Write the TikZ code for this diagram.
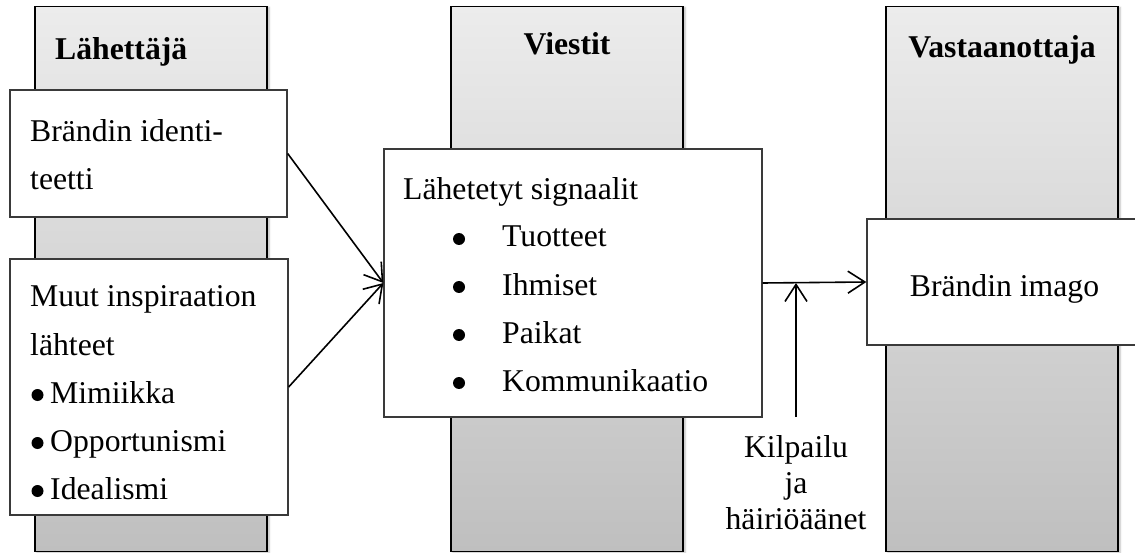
\documentclass[tikz,border=0pt]{standalone}
\usepackage{fontspec}
\setmainfont{Liberation Serif}
\usetikzlibrary{arrows.meta,shadows.blur}
\definecolor{colTop}{HTML}{ECECEC}
\definecolor{colBot}{HTML}{BFBFBF}
\definecolor{boxEdge}{HTML}{3A3A3A}
\begin{document}
\begin{tikzpicture}[x=1pt,y=-1pt,
  column/.style={draw=black, line width=1.8pt, top color=colTop, bottom color=colBot,
    minimum width=232pt, minimum height=545pt, inner sep=0pt,
    blur shadow={shadow xshift=2pt, shadow yshift=-1pt, shadow blur radius=2pt, shadow opacity=30}},
  panel/.style={draw=boxEdge, line width=1.3pt, fill=white, inner sep=0pt},
  title/.style={font=\bfseries\fontsize{31.7}{38}\selectfont, anchor=base, inner sep=0pt},
  txt/.style={font=\fontsize{31.7}{38}\selectfont, anchor=base west, inner sep=0pt},
  dot/.style={circle, fill=black, inner sep=0pt, minimum size=12pt},
  flow/.style={line width=1.6pt, -{Straight Barb[length=17pt,width=22pt]}}
]
\useasboundingbox (0,0) rectangle (1135,553);
\clip (0,0) rectangle (1135,553);

% three shaded columns
\node[column] (sender) at (151,279) {};
\node[column] (messages) at (567,279) {};
\node[column] (receiver) at (1002,279) {};

\node[title, anchor=base west] (tsender) at (55,60) {Lähettäjä};
\node[title] (tmessages) at (567,55) {Viestit};
\node[title] (treceiver) at (1002,58) {Vastaanottaja};

% white panels
\node[panel, minimum width=277pt, minimum height=127pt] (identity) at (148.5,153.5) {};
\node[panel, minimum width=278pt, minimum height=256pt] (other) at (149,387) {};
\node[panel, minimum width=378pt, minimum height=268pt] (signals) at (573,283) {};
\node[panel, minimum width=273pt, minimum height=126pt] (image) at (1003.5,282) {};

% sender texts
\node[txt] (id1) at (30,142) {Brändin identi-};
\node[txt] (id2) at (30,190) {teetti};
\node[txt] (ot1) at (30,307) {Muut inspiraation};
\node[txt] (ot2) at (30,355) {lähteet};
\node[dot] (od1) at (37.5,395) {};
\node[txt] (ot3) at (50,403) {Mimiikka};
\node[dot] (od2) at (37.5,443) {};
\node[txt] (ot4) at (50,451) {Opportunismi};
\node[dot] (od3) at (37.5,491) {};
\node[txt] (ot5) at (50,499) {Idealismi};

% message texts
\node[txt] (sg0) at (403,200) {Lähetetyt signaalit};
\node[dot] (sd1) at (459,239) {};
\node[txt] (sg1) at (502,247) {Tuotteet};
\node[dot] (sd2) at (459,287) {};
\node[txt] (sg2) at (502,295) {Ihmiset};
\node[dot] (sd3) at (459,335) {};
\node[txt] (sg3) at (502,343) {Paikat};
\node[dot] (sd4) at (459,383) {};
\node[txt] (sg4) at (502,391) {Kommunikaatio};

% receiver text
\node[txt, anchor=base] (im) at (1004.5,297) {Brändin imago};

% noise label
\node[txt, anchor=base] (n1) at (796,457) {Kilpailu};
\node[txt, anchor=base] (n2) at (796,493) {ja};
\node[txt, anchor=base] (n3) at (796,529) {häiriöäänet};
\coordinate (noise) at (796,417);

% connectors
\draw[flow] (identity.east) -- (signals.west);
\draw[flow] (other.east) -- (signals.west);
\draw[flow] (signals.east) -- (image.west);
\draw[flow] (noise) -- (noise |- signals.east);
\end{tikzpicture}
\end{document}
